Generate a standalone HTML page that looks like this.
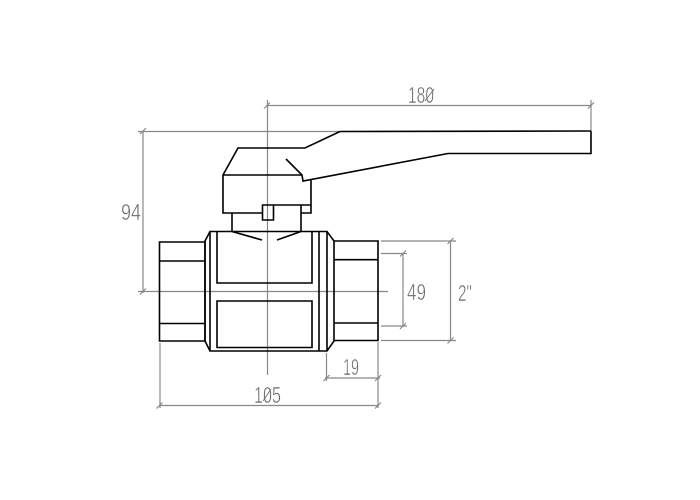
<!DOCTYPE html>
<html><head><meta charset="utf-8"><style>html,body{margin:0;padding:0;background:#fff}svg{display:block}text{font-family:"Liberation Sans",sans-serif;font-size:23px;fill:#666;stroke:#fff;stroke-width:.5px}</style></head><body>
<svg width="700" height="500" viewBox="0 0 700 500" xmlns="http://www.w3.org/2000/svg">
<g fill="none" stroke="#888" stroke-width="1.2">
<path d="M267.5 100V375M138 291.5H388"/>
<path d="M267 105.5H591M591 100V131"/>
<path d="M143 131V293M138 131.5H340"/>
<path d="M159 405.5H379M160 343V408M378 342V408"/>
<path d="M325 378H380M326.5 353V381"/>
<path d="M403 253.5V326M381 253.5H407M381 326H407"/>
<path d="M450.5 241V340.5M381 241H456M381 340.5H456"/>
<path d="M264 108.5L270 102.5M588 108.5L594 102.5M140 134L146 128M140 294.5L146 288.5M156.500 408.500L162.500 402.500M375 408.500L381 402.500M323.500 381L329.500 375M375 381L381 375M400 256.500L406 250.500M400 329L406 323M447.500 244L453.500 238M447.500 343.500L453.500 337.500"/>
</g>
<g fill="none" stroke="#000" stroke-width="1.6" stroke-linejoin="miter">
<path d="M340 131.500L590 131Q591 131 591 132V153.500H448L303 181L302 175L286 159"/>
<path d="M340 131.500L305 148H238L223 175V213H262.500"/>
<path d="M223 175H302"/>
<path d="M311 179V213H301"/>
<path d="M273 205H311"/>
<path d="M262.500 205H273.500V220H262.500Z"/>
<path d="M232 213V231.500M301 205V231.500"/>
<path d="M232 231.500L262 240M301 231.500L277 240"/>
<path d="M205 241L210 231.500H327L334 241V341L327 351H210L205 341Z"/>
<path d="M205 241V341M210 231.500V351M319 231.500V351M327 231.500V351"/>
<path d="M217 231.500V283H312V231.500"/>
<path d="M217 301H312V347.500H217Z"/>
<path d="M205 242H159.500V341H205M159.500 261H205M159.500 323.500H205"/>
<path d="M334 241H378V340.500H334M334 259.700H378M334 323H378"/>
</g>
<text x="408" y="103" textLength="26" lengthAdjust="spacingAndGlyphs">180</text>
<text x="121" y="220" textLength="20" lengthAdjust="spacingAndGlyphs">94</text>
<text x="407" y="300" textLength="19" lengthAdjust="spacingAndGlyphs">49</text>
<text x="458" y="301" textLength="14" lengthAdjust="spacingAndGlyphs">2"</text>
<text x="343" y="375" textLength="16" lengthAdjust="spacingAndGlyphs">19</text>
<text x="254" y="403" textLength="27" lengthAdjust="spacingAndGlyphs">105</text>
<g stroke="#777" stroke-width="1" fill="none"><path d="M425 101L434 89M263 401L271 389"/></g>
</svg>
</body></html>
